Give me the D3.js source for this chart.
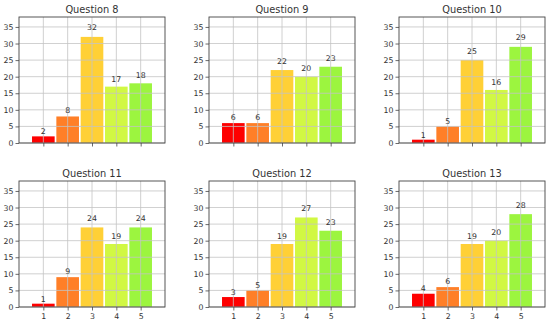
<!DOCTYPE html>
<html>
<head>
<meta charset="utf-8">
<script src="https://cdn.jsdelivr.net/npm/d3@7"></script>
<style>
  body { margin: 0; background: #fff; }
  svg { display: block; }
  text { font-family: "DejaVu Sans", sans-serif; fill: #333; }
</style>
</head>
<body>
<div id="chart"></div>
<script>
// answers 1..5, one count per answer
var answers = [1, 2, 3, 4, 5];
var titles = ["Question 8", "Question 9", "Question 10", "Question 11", "Question 12", "Question 13"];
var q8 = [2, 8, 32, 17, 18];
var q9 = [6, 6, 22, 20, 23];
var q10 = [1, 5, 25, 16, 29];
var q11 = [1, 9, 24, 19, 24];
var q12 = [3, 5, 19, 27, 23];
var q13 = [4, 6, 19, 20, 28];
var yTicks = [0, 5, 10, 15, 20, 25, 30, 35];
var colors = ["#fe0000", "#ff7f27", "#ffd036", "#d1f843", "#9cf53f"];

var series = [q8, q9, q10, q11, q12, q13];

var W = 550, H = 324;
var panelW = 146, panelH = 126;
var left0 = 19, top0 = 17, pitchX = 190, pitchY = 164;

var svg = d3.select("#chart").append("svg").attr("width", W).attr("height", H);

var xScale = d3.scaleLinear().domain([0, 6]).range([0, panelW]);
var yScale = d3.scaleLinear().domain([0, 38]).range([panelH, 0]);

series.forEach(function(vals, i) {
	var col = i % 3, row = Math.floor(i / 3);
	var g = svg.append("g")
		.attr("transform", "translate(" + (left0 + col * pitchX) + "," + (top0 + row * pitchY) + ")");

	var data = answers.map(function(a, j) { return {x: a, y: vals[j], c: colors[j]}; });

	// bars
	var bw = xScale(0.93) - xScale(0);
	g.selectAll("rect.bar")
		.data(data)
		.enter()
		.append("rect")
		.attr("class", "bar")
		.attr("x", function(d) { return xScale(d.x) - bw / 2; })
		.attr("width", bw)
		.attr("y", function(d) { return yScale(d.y); })
		.attr("height", function(d) { return yScale(0) - yScale(d.y); })
		.attr("fill", function(d) { return d.c; });

	// grid (drawn over the bars like the original)
	g.selectAll("line.gy")
		.data(yTicks)
		.enter()
		.append("line")
		.attr("x1", 0).attr("x2", panelW)
		.attr("y1", function(d) { return yScale(d); })
		.attr("y2", function(d) { return yScale(d); })
		.attr("stroke", "#c4c4c4").attr("stroke-width", 0.8);
	g.selectAll("line.gx")
		.data(answers)
		.enter()
		.append("line")
		.attr("y1", 0).attr("y2", panelH)
		.attr("x1", function(d) { return xScale(d); })
		.attr("x2", function(d) { return xScale(d); })
		.attr("stroke", "#c4c4c4").attr("stroke-width", 0.8);

	// value labels
	g.selectAll("text.val")
		.data(data)
		.enter()
		.append("text")
		.attr("class", "val")
		.attr("x", function(d) { return xScale(d.x); })
		.attr("y", function(d) { return yScale(d.y * 1.05) - 2; })
		.attr("text-anchor", "middle")
		.style("font-size", "7.8px")
		.text(function(d) { return d.y; });

	// axes
	var yAxis = d3.axisLeft(yScale).tickValues(yTicks).tickSize(3.5).tickPadding(2);
	var xAxis = d3.axisBottom(xScale).tickValues(answers).tickSize(3.5).tickPadding(2.5)
		.tickFormat(row === 1 ? d3.format("d") : function() { return ""; });

	var ya = g.append("g").attr("class", "y axis").call(yAxis);
	var xa = g.append("g").attr("class", "x axis")
		.attr("transform", "translate(0," + panelH + ")").call(xAxis);
	[ya, xa].forEach(function(a) {
		a.select(".domain").remove();
		a.selectAll(".tick line").attr("stroke", "#444").attr("stroke-width", 0.8);
		a.selectAll(".tick text").style("font-size", "7.8px").style("font-family", "DejaVu Sans").attr("fill", "#333");
	});

	// frame
	g.append("rect")
		.attr("width", panelW).attr("height", panelH)
		.attr("fill", "none").attr("stroke", "#444").attr("stroke-width", 0.9);

	// title
	g.append("text")
		.attr("x", panelW / 2)
		.attr("y", -4.5)
		.attr("text-anchor", "middle")
		.style("font-size", "9.8px")
		.text(titles[i]);
});
</script>
</body>
</html>
